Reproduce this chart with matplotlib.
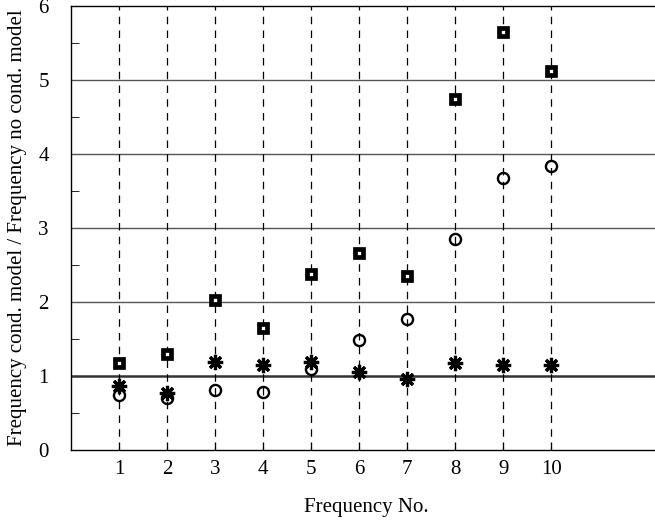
import numpy as np
import matplotlib.pyplot as plt

plt.rcParams['font.family'] = ['Liberation Serif', 'DejaVu Serif']

freq_no = [1, 2, 3, 4, 5, 6, 7, 8, 9, 10]
squares = [1.18, 1.30, 2.03, 1.65, 2.38, 2.66, 2.35, 4.75, 5.65, 5.12]
circles = [0.75, 0.70, 0.81, 0.79, 1.10, 1.48, 1.77, 2.85, 3.68, 3.84]
stars = [0.87, 0.77, 1.19, 1.15, 1.19, 1.06, 0.96, 1.17, 1.15, 1.15]

fig = plt.figure(figsize=(6.55, 5.21), dpi=100)
ax = fig.add_axes([71/655, 71/521, 1 - 71/655 + 0.01, (450-6)/521])

# grid
for y in range(1, 6):
    ax.axhline(y, color='#555555' if y != 1 else '#333333', lw=1.0 if y != 1 else 1.8, zorder=1)
for x in freq_no:
    ax.axvline(x, color='black', lw=0.9, ls=(0, (6, 5)), zorder=1)

ax.plot(freq_no, squares, ls='none', marker='s', ms=6.2, mfc='white', mec='black', mew=3.4, zorder=3)
ax.plot(freq_no, circles, ls='none', marker='o', ms=8, mfc='none', mec='black', mew=1.7, zorder=3)
ax.plot(freq_no, stars, ls='none', marker=(8, 2, 0), ms=11, mec='black', mew=2.3, zorder=3)

ax.set_xlim(0, 12.3)
ax.set_ylim(0, 6)
ax.set_xticks(freq_no)
ax.set_yticks(range(0, 7))
ax.set_yticks(np.arange(0.5, 6, 1.0), minor=True)
ax.tick_params(axis='both', which='both', direction='in', labelsize=15)
ax.tick_params(axis='x', which='major', length=6, pad=7)
ax.tick_params(axis='y', which='major', length=0, pad=16)
ax.tick_params(axis='y', which='minor', length=6)
ax.spines['right'].set_visible(False)
for s in ['left', 'bottom', 'top']:
    ax.spines[s].set_linewidth(1.0)

ax.set_xlabel('Frequency No.', fontsize=15, labelpad=14)
ax.set_ylabel('Frequency cond. model / Frequency no cond. model', fontsize=15, labelpad=8)

fig.savefig('out.png', dpi=100)
